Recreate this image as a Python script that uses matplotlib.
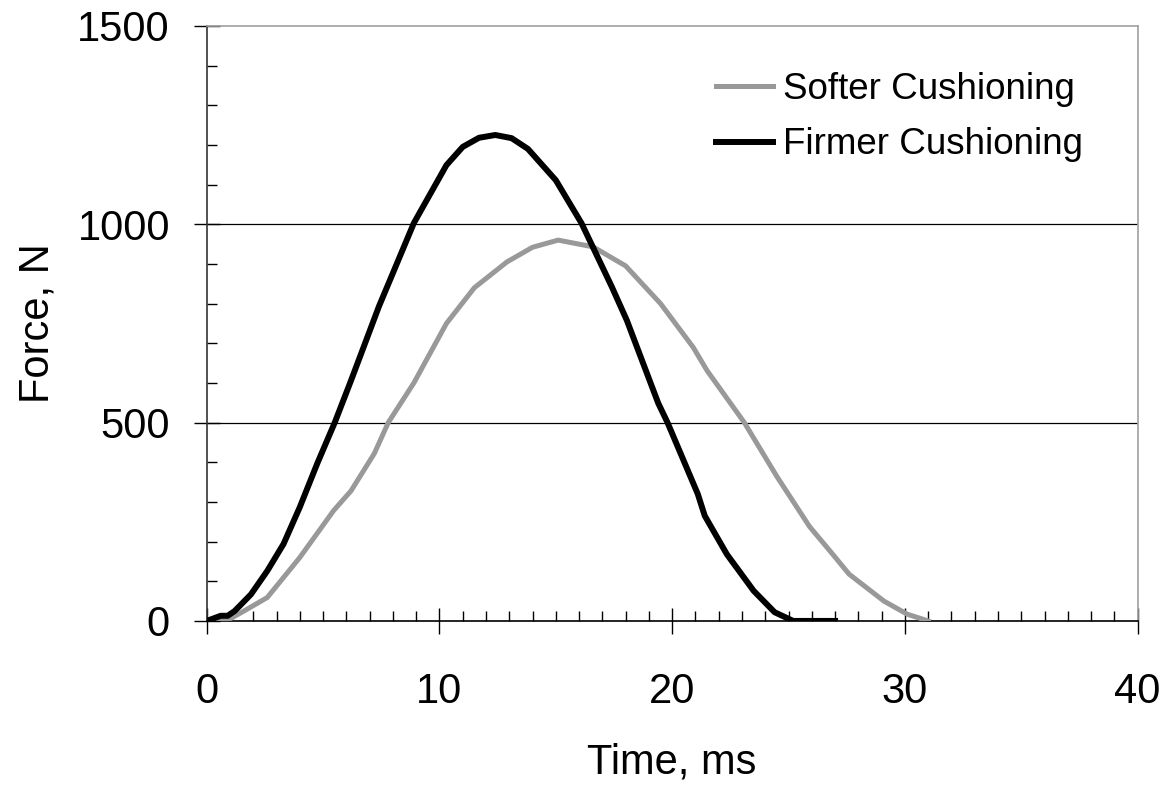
import matplotlib.pyplot as plt
from matplotlib.ticker import MultipleLocator

plt.rcParams['font.family'] = ['Liberation Sans', 'DejaVu Sans']

# Softer cushioning (grey curve)
soft_t = [0, 0.9, 1.6, 2.6, 4.0, 5.45, 6.2, 7.2, 7.8, 8.9, 10.3, 11.5, 12.9,
          14.0, 15.1, 16.6, 18.0, 19.5, 20.9, 21.5, 23.1, 24.5, 25.9, 26.9, 27.6,
          29.1, 30.1, 31.0]
soft_f = [0, 2, 25, 59, 160, 278, 328, 422, 500, 600, 750, 840, 905,
          942, 960, 943, 895, 800, 690, 631, 500, 364, 238, 168, 118,
          50, 17, 0]

# Firmer cushioning (black curve)
firm_t = [0, 0.6, 0.9, 1.2, 1.9, 2.6, 3.3, 4.0, 4.75, 5.5, 6.2, 7.4, 8.9, 10.3,
          11.0, 11.7, 12.4, 13.1, 13.8, 15.0, 16.1, 17.4, 18.05, 19.4, 19.8, 21.1,
          21.4, 22.35, 23.5, 24.4, 25.2, 27.0]
firm_f = [0, 13, 13, 25, 67, 126, 194, 287, 397, 500, 606, 793, 1003, 1149,
          1195, 1218, 1225, 1217, 1190, 1111, 1003, 843, 758, 549, 500, 320,
          265, 168, 76, 22, 0, 0]

fig = plt.figure(figsize=(11.68, 7.85), dpi=100)
ax = fig.add_axes([0.177, 0.209, 0.797, 0.758])

ax.plot(soft_t, soft_f, color='#999999', lw=3.6, label='Softer Cushioning',
        solid_joinstyle='round', zorder=3)
ax.plot(firm_t, firm_f, color='black', lw=4.3, label='Firmer Cushioning',
        solid_joinstyle='round', zorder=4)

ax.set_xlim(0, 40)
ax.set_ylim(0, 1500)
ax.xaxis.set_major_locator(MultipleLocator(10))
ax.xaxis.set_minor_locator(MultipleLocator(1))
ax.yaxis.set_major_locator(MultipleLocator(500))
ax.yaxis.set_minor_locator(MultipleLocator(100))

# horizontal gridlines only
for v in [500, 1000]:
    ax.axhline(v, color='black', lw=0.9, zorder=1)

ax.spines['top'].set_color('#a0a0a0')
ax.spines['right'].set_color('#a0a0a0')
ax.spines['left'].set_color('#333333')
ax.spines['bottom'].set_color('black')
for s in ax.spines.values():
    s.set_linewidth(1.2)

ax.tick_params(which='major', direction='inout', length=19, width=1.0,
               labelsize=30, color='black')
ax.tick_params(axis='x', which='major', pad=27)
ax.tick_params(axis='y', which='major', pad=17)
ax.tick_params(which='minor', direction='in', length=7.5, width=1.0, color='black')
ax.tick_params(top=False, right=False, which='both')

ax.set_xlabel('Time, ms', fontsize=30, labelpad=22)
ax.set_ylabel('Force, N', fontsize=30, labelpad=14)

ax.legend(loc='upper left', bbox_to_anchor=(0.613, 0.908), bbox_transform=fig.transFigure,
          frameon=False, fontsize=26.5, handlelength=1.55, handletextpad=0.27,
          labelspacing=0.55, borderpad=0, borderaxespad=0)

fig.savefig('out.png', dpi=100)
